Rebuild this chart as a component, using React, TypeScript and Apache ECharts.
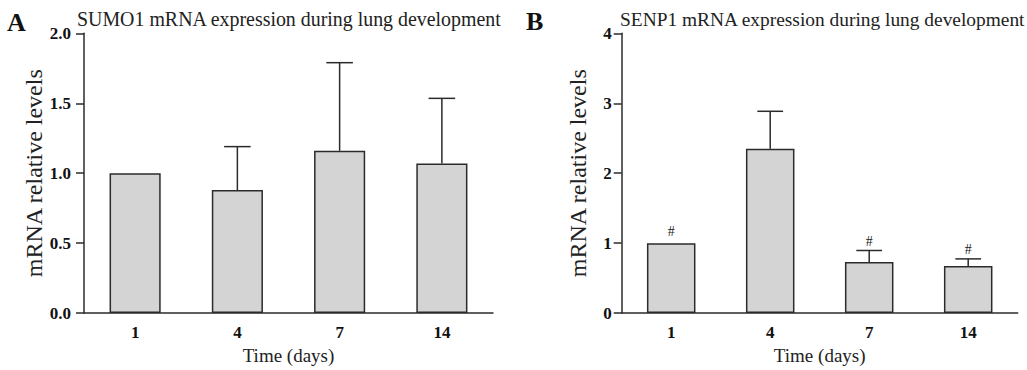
import React, { useEffect, useRef } from "react";
import * as echarts from "echarts";

const categories = ["1", "4", "7", "14"];
const sumo1Mean = [1.0, 0.88, 1.16, 1.07];
const sumo1Sd = [0, 0.31, 0.63, 0.465];
const sumo1Marks = ["", "", "", ""];
const senp1Mean = [1.0, 2.35, 0.73, 0.675];
const senp1Sd = [0, 0.535, 0.165, 0.1];
const senp1Marks = ["#", "", "#", "#"];

const FONT = '"Liberation Serif", "Times New Roman", serif';
const INK = "#2b2b2b";

function errorRender(marks: string[]) {
  return (params: any, api: any) => {
    const i = params.dataIndex;
    const x = api.value(0);
    const m = api.value(1);
    const hi = api.value(2);
    const base = api.coord([x, m]);
    const top = api.coord([x, hi]);
    const band = api.size([1, 0])[0];
    const half = band * 0.13;
    const children: any[] = [];
    const hasErr = hi > m;
    if (hasErr) {
      children.push({
        type: "line",
        shape: { x1: base[0], y1: base[1], x2: top[0], y2: top[1] },
        style: { stroke: INK, lineWidth: 1.5 },
      });
      children.push({
        type: "line",
        shape: { x1: top[0] - half, y1: top[1], x2: top[0] + half, y2: top[1] },
        style: { stroke: INK, lineWidth: 1.5 },
      });
    }
    const mark = marks[i];
    if (mark) {
      children.push({
        type: "text",
        x: top[0],
        y: top[1] - (hasErr ? 2 : 5),
        style: {
          text: mark,
          fontSize: 14,
          fontFamily: FONT,
          fill: "#222",
          align: "center",
          verticalAlign: "bottom",
        },
      });
    }
    return { type: "group", children };
  };
}

export default function App() {
  const ref = useRef<HTMLDivElement>(null);
  useEffect(() => {
    if (!ref.current) return;
    const chart = echarts.init(ref.current, null, { renderer: "svg" });
    const axisLine = { show: true, lineStyle: { color: INK, width: 1.5 } };
    const xAxisCommon = {
      type: "category",
      data: categories,
      axisLine,
      axisTick: { show: false },
      axisLabel: { fontSize: 17, fontWeight: "bold", fontFamily: FONT, color: "#111", margin: 11 },
      name: "Time (days)",
      nameLocation: "middle",
      nameGap: 32,
      nameTextStyle: { fontSize: 19, fontFamily: FONT, color: "#222" },
    };
    const yName = {
      name: "mRNA relative levels",
      nameLocation: "middle",
      nameRotate: 90,
      nameTextStyle: { fontSize: 24, fontFamily: FONT, color: "#222" },
    };
    const option: any = {
      animation: false,
      backgroundColor: "#fff",
      grid: [
        { left: 84, top: 33.3, width: 409, height: 283.4 },
        { left: 621.7, top: 33.3, width: 396, height: 283.4 },
      ],
      xAxis: [
        { ...xAxisCommon, gridIndex: 0 },
        { ...xAxisCommon, gridIndex: 1 },
      ],
      yAxis: [
        {
          ...yName,
          nameGap: 34,
          type: "value",
          gridIndex: 0,
          min: 0,
          max: 2,
          interval: 0.5,
          axisLine,
          axisTick: { show: true, length: 8, lineStyle: { color: INK, width: 1.5 } },
          splitLine: { show: false },
          axisLabel: {
            fontSize: 17,
            fontWeight: "bold",
            fontFamily: FONT,
            color: "#111",
            margin: 13,
            formatter: (v: number) => v.toFixed(1),
          },
        },
        {
          ...yName,
          nameGap: 32,
          type: "value",
          gridIndex: 1,
          min: 0,
          max: 4,
          interval: 1,
          axisLine,
          axisTick: { show: true, length: 8, lineStyle: { color: INK, width: 1.5 } },
          splitLine: { show: false },
          axisLabel: { fontSize: 17, fontWeight: "bold", fontFamily: FONT, color: "#111", margin: 10 },
        },
      ],
      series: [
        {
          type: "bar",
          xAxisIndex: 0,
          yAxisIndex: 0,
          data: sumo1Mean,
          barWidth: "50%",
          itemStyle: { color: "#d4d4d4", borderColor: INK, borderWidth: 1.5 },
        },
        {
          type: "custom",
          xAxisIndex: 0,
          yAxisIndex: 0,
          data: sumo1Mean.map((m, i) => [i, m, m + sumo1Sd[i]]),
          renderItem: errorRender(sumo1Marks),
          z: 5,
        },
        {
          type: "bar",
          xAxisIndex: 1,
          yAxisIndex: 1,
          data: senp1Mean,
          barWidth: "49%",
          itemStyle: { color: "#d4d4d4", borderColor: INK, borderWidth: 1.5 },
        },
        {
          type: "custom",
          xAxisIndex: 1,
          yAxisIndex: 1,
          data: senp1Mean.map((m, i) => [i, m, m + senp1Sd[i]]),
          renderItem: errorRender(senp1Marks),
          z: 5,
        },
      ],
      graphic: [
        {
          type: "text",
          left: 7,
          top: 9,
          style: { text: "A", fontSize: 26, fontWeight: "bold", fontFamily: FONT, fill: "#111" },
        },
        {
          type: "text",
          left: 526,
          top: 8,
          style: { text: "B", fontSize: 26, fontWeight: "bold", fontFamily: FONT, fill: "#111" },
        },
        {
          type: "text",
          left: 77,
          top: 8.5,
          style: {
            text: "SUMO1 mRNA expression during lung development",
            fontSize: 19.9,
            fontFamily: FONT,
            fill: "#222",
          },
        },
        {
          type: "text",
          left: 620,
          top: 10,
          style: {
            text: "SENP1 mRNA expression during lung development",
            fontSize: 19.4,
            fontFamily: FONT,
            fill: "#222",
          },
        },
      ],
    };
    chart.setOption(option);
    return () => chart.dispose();
  }, []);
  return (
    <div
      ref={ref}
      style={{ position: "fixed", left: 0, top: 0, width: 1027, height: 370, background: "#fff" }}
    />
  );
}
